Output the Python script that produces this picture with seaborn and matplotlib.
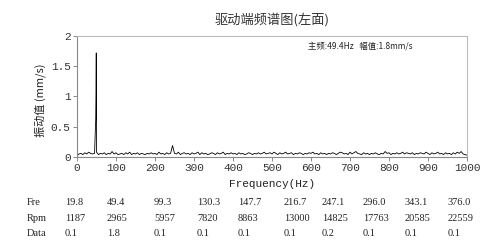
import numpy as np
import pandas as pd
import matplotlib
matplotlib.use("Agg")
import matplotlib.pyplot as plt
import seaborn as sns

# ---- data ----
grid_step = 5
noise_amp = [
    0.02,0.05,0.06,0.04,0.07,0.05,0.08,0.06,0.05,0.06,
    0.08,0.04,0.06,0.05,0.07,0.04,0.06,0.05,0.09,0.05,
    0.07,0.04,0.05,0.06,0.04,0.07,0.05,0.08,0.04,0.06,
    0.05,0.07,0.04,0.06,0.05,0.04,0.06,0.05,0.07,0.05,
    0.06,0.04,0.08,0.05,0.06,0.04,0.07,0.05,0.06,0.19,
    0.06,0.05,0.08,0.04,0.06,0.07,0.05,0.06,0.04,0.07,
    0.05,0.06,0.08,0.04,0.07,0.05,0.06,0.04,0.05,0.07,
    0.06,0.04,0.07,0.05,0.06,0.08,0.04,0.06,0.05,0.07,
    0.05,0.06,0.04,0.07,0.05,0.06,0.04,0.05,0.07,0.06,
    0.04,0.06,0.05,0.07,0.05,0.06,0.08,0.05,0.06,0.07,
    0.05,0.08,0.06,0.04,0.07,0.05,0.06,0.08,0.05,0.06,
    0.07,0.04,0.06,0.05,0.07,0.06,0.04,0.06,0.05,0.07,
    0.06,0.08,0.05,0.06,0.04,0.07,0.05,0.06,0.04,0.06,
    0.05,0.07,0.06,0.04,0.06,0.08,0.07,0.05,0.06,0.04,
    0.08,0.05,0.07,0.09,0.06,0.05,0.04,0.07,0.05,0.06,
    0.04,0.06,0.05,0.07,0.05,0.04,0.06,0.05,0.09,0.06,
    0.07,0.04,0.06,0.05,0.07,0.05,0.06,0.08,0.05,0.07,
    0.06,0.05,0.07,0.04,0.06,0.05,0.07,0.06,0.05,0.08,
    0.06,0.04,0.07,0.05,0.06,0.08,0.05,0.06,0.04,0.07,
    0.05,0.06,0.04,0.07,0.05,0.08,0.06,0.09,0.05,0.04,
    0.03,
]
peak_freq = [48.0, 48.8, 49.4, 49.9]
peak_amp = [0.62, 1.05, 1.72, 0.30]

table_rows = ["Fre", "Rpm", "Data"]
fre_vals = ["19.8", "49.4", "99.3", "130.3", "147.7", "216.7", "247.1", "296.0", "343.1", "376.0"]
rpm_vals = ["1187", "2965", "5957", "7820", "8863", "13000", "14825", "17763", "20585", "22559"]
data_vals = ["0.1", "1.8", "0.1", "0.1", "0.1", "0.1", "0.2", "0.1", "0.1", "0.1"]

title = "驱动端频谱图(左面)"
annot = "主频:49.4Hz   幅值:1.8mm/s"
ylabel = "振动值 (mm/s)"
xlabel = "Frequency(Hz)"

# ---- build frame ----
grid_freq = np.arange(len(noise_amp)) * grid_step
df = pd.DataFrame({
    "freq": np.concatenate([grid_freq, peak_freq]),
    "amp": np.concatenate([noise_amp, peak_amp]),
}).sort_values("freq").reset_index(drop=True)

sns.set_theme(style="white")
plt.rcParams["font.family"] = ["Noto Sans CJK SC", "DejaVu Sans"]

fig = plt.figure(figsize=(4.85, 2.43), dpi=100)
ax = fig.add_axes([77/485, 1-157/243, (467-77)/485, (157-36)/243])

sns.lineplot(data=df, x="freq", y="amp", ax=ax, color="black", linewidth=0.6, sort=False)

ax.set_xlim(0, 1000)
ax.set_ylim(0, 2)
ax.set_xticks(range(0, 1001, 100))
ax.set_yticks([0, 0.5, 1, 1.5, 2])
ax.set_yticklabels(["0", "0.5", "1", "1.5", "2"])
ax.set_xlabel("")
ax.set_ylabel("")
for lab in ax.get_xticklabels() + ax.get_yticklabels():
    lab.set_fontfamily(["Liberation Mono"])
    lab.set_fontsize(8)
    lab.set_color("#333333")
ax.tick_params(axis="both", direction="out", length=3, width=0.6, color="#777777", pad=1.5,
               bottom=True, left=True)
for s in ["left", "bottom"]:
    ax.spines[s].set_color("#888888")
    ax.spines[s].set_linewidth(0.8)
for s in ["top", "right"]:
    ax.spines[s].set_color("#bbbbbb")
    ax.spines[s].set_linewidth(0.8)

fig.text(272/485, 1-21/243, title, ha="center", va="center", fontsize=9.5, color="#333333")
fig.text(308/485, 1-46/243, annot, ha="left", va="center", fontsize=6, color="#222222",
         family=["Noto Sans CJK SC", "DejaVu Sans"])
fig.text(40/485, 1-100/243, ylabel, ha="center", va="center", rotation=90, fontsize=8, color="#222222")
fig.text(272/485, 1-184/243, xlabel, ha="center", va="center", fontsize=8, color="#222222",
         family=["Liberation Mono"])

col_x = [65, 107, 154, 197, 238, 284, 322, 363, 405, 448]
row_y = [202, 218, 234]
for r, (name, vals) in enumerate(zip(table_rows, [fre_vals, rpm_vals, data_vals])):
    fig.text(27/485, 1-row_y[r]/243, name, ha="left", va="center", fontsize=7.5,
             family=["Liberation Serif"], color="#222222")
    for c, v in enumerate(vals):
        fig.text(col_x[c]/485, 1-row_y[r]/243, v, ha="left", va="center", fontsize=7.5,
                 family=["Liberation Serif"], color="#222222")

fig.savefig("out.png", dpi=100)
